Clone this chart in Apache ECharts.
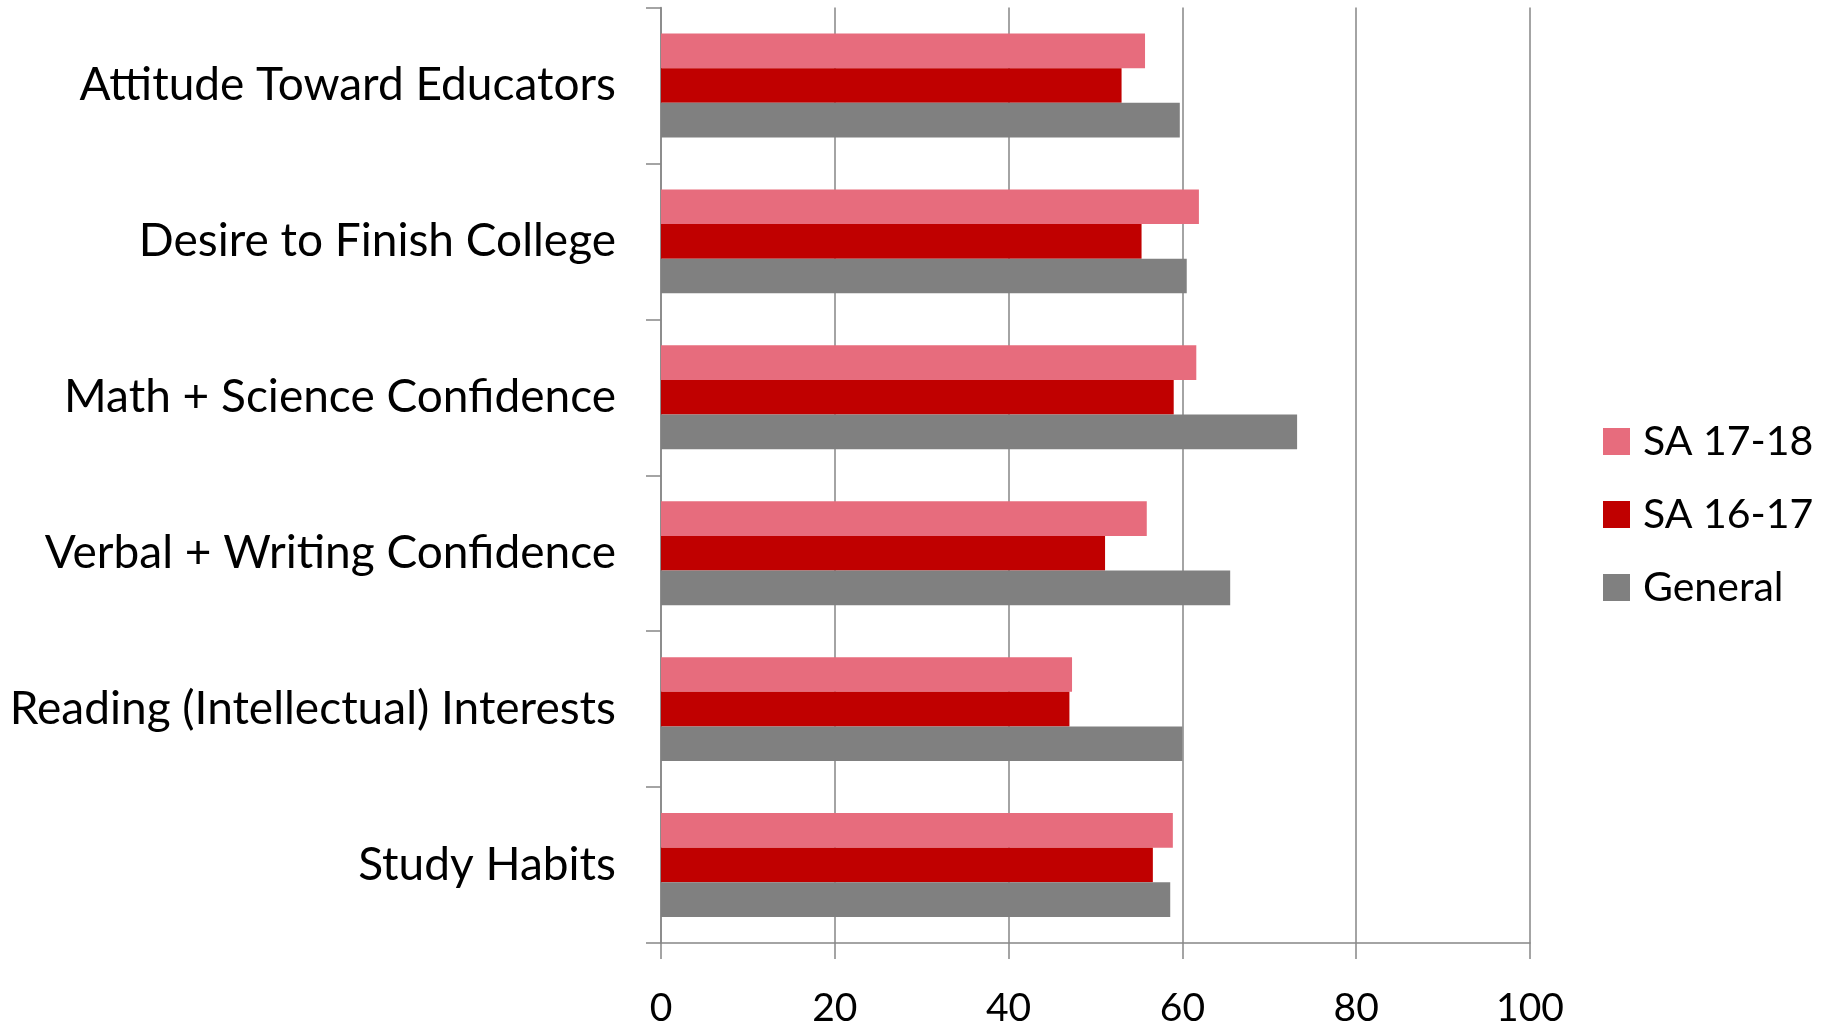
<!DOCTYPE html>
<html>
<head>
<meta charset="utf-8">
<script src="https://cdn.jsdelivr.net/npm/echarts@6/dist/echarts.min.js"></script>
<style>
html,body{margin:0;padding:0;background:#fff;}
#chart{width:1833px;height:1028px;}
</style>
</head>
<body>
<div id="chart"></div>
<script>
const categories = [
  "Attitude Toward Educators",
  "Desire to Finish College",
  "Math + Science Confidence",
  "Verbal + Writing Confidence",
  "Reading (Intellectual) Interests",
  "Study Habits"
];
const seriesNames = ["SA 17-18", "SA 16-17", "General"];
const sa1718 = [55.7, 61.9, 61.6, 55.9, 47.3, 58.9];
const sa1617 = [53.0, 55.3, 59.0, 51.1, 47.0, 56.6];
const general = [59.7, 60.5, 73.2, 65.5, 60.0, 58.6];
const xTicks = [0, 20, 40, 60, 80, 100];

const colors = ["#E76C7D", "#C00000", "#808080"];
const FONT = "Lato";

const chart = echarts.init(document.getElementById('chart'));
const values = [sa1718, sa1617, general];
chart.setOption({
  animation: false,
  backgroundColor: '#ffffff',
  grid: { left: 661, right: 303, top: 7.5, bottom: 83.5, containLabel: false },
  legend: {
    orient: 'vertical',
    left: 1598,
    top: 416,
    itemWidth: 27,
    itemHeight: 27,
    itemGap: 32,
    icon: 'rect',
    data: seriesNames,
    textStyle: { fontFamily: FONT, fontSize: 41, color: '#000', lineHeight: 27, padding: [0,0,0,8] },
    selectedMode: false
  },
  xAxis: {
    type: 'value',
    min: xTicks[0],
    max: xTicks[xTicks.length - 1],
    interval: 20,
    axisLine: { show: true, lineStyle: { color: '#868686', width: 1.5 } },
    axisTick: { show: true, length: 16, lineStyle: { color: '#868686', width: 1.5 } },
    splitLine: { show: true, lineStyle: { color: '#868686', width: 1.5 } },
    axisLabel: { margin: 46, fontFamily: FONT, fontSize: 39, color: '#000' }
  },
  yAxis: {
    type: 'category',
    inverse: true,
    data: categories,
    axisLine: { show: true, lineStyle: { color: '#868686', width: 1.5 } },
    axisTick: { show: true, length: 15, lineStyle: { color: '#868686', width: 1.5 } },
    axisLabel: { margin: 45, fontFamily: FONT, fontSize: 46, color: '#000' }
  },
  series: seriesNames.map((name, i) => ({
    name: name,
    type: 'bar',
    data: values[i],
    barGap: '0%',
    barCategoryGap: '33.3%',
    itemStyle: { color: colors[i] }
  }))
});
</script>
</body>
</html>
